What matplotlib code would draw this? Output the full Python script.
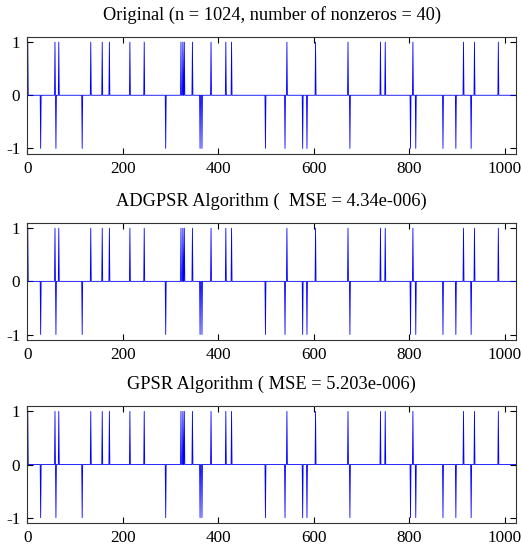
import numpy as np
import matplotlib
matplotlib.use('Agg')
import matplotlib.pyplot as plt

# sinal esparso: posicoes (1..1024) e sinais dos 40 picos
n = 1024
pos_idx = [1, 58, 66, 133, 157, 172, 215, 245, 322, 326, 329, 346, 385, 416, 428,
           544, 604, 672, 740, 750, 808, 914, 937, 987]
neg_idx = [28, 60, 115, 290, 362, 366, 499, 540, 577, 586, 676, 803, 814, 871,
           898, 930]

# amplitudes de cada reconstrucao (visualmente iguais ao original)
amp_original = 1.0
amp_adgpsr = 1.0
amp_gpsr = 1.0

titles = ['Original (n = 1024, number of nonzeros = 40)',
          'ADGPSR Algorithm (  MSE = 4.34e-006)',
          'GPSR Algorithm ( MSE = 5.203e-006)']


def build(amp):
    x = np.zeros(n)
    x[np.array(pos_idx) - 1] = amp
    x[np.array(neg_idx) - 1] = -amp
    return x


signals = [build(amp_original), build(amp_adgpsr), build(amp_gpsr)]

plt.rcParams['font.family'] = ['Liberation Serif', 'DejaVu Serif']
plt.rcParams['axes.unicode_minus'] = False

fig = plt.figure(figsize=(5.22, 5.49), dpi=100)
bottoms = [0.720, 0.381, 0.0474]
t = np.arange(1, n + 1)
for sig, title, b in zip(signals, titles, bottoms):
    ax = fig.add_axes([0.0523, b, 0.9362, 0.213])
    ax.plot(t, sig, color='blue', linewidth=0.6)
    ax.set_xlim(0, 1024)
    ax.set_ylim(-1.1, 1.1)
    ax.set_xticks([0, 200, 400, 600, 800, 1000])
    ax.set_yticks([-1, 0, 1])
    ax.tick_params(direction='in', length=4, top=True, right=True, width=0.8,
                   pad=5, labelsize=12.3)
    for s in ax.spines.values():
        s.set_linewidth(0.8)
        s.set_color('#333333')
    ax.set_title(title, fontsize=13.2, pad=12)

fig.savefig('out.png', dpi=100)
